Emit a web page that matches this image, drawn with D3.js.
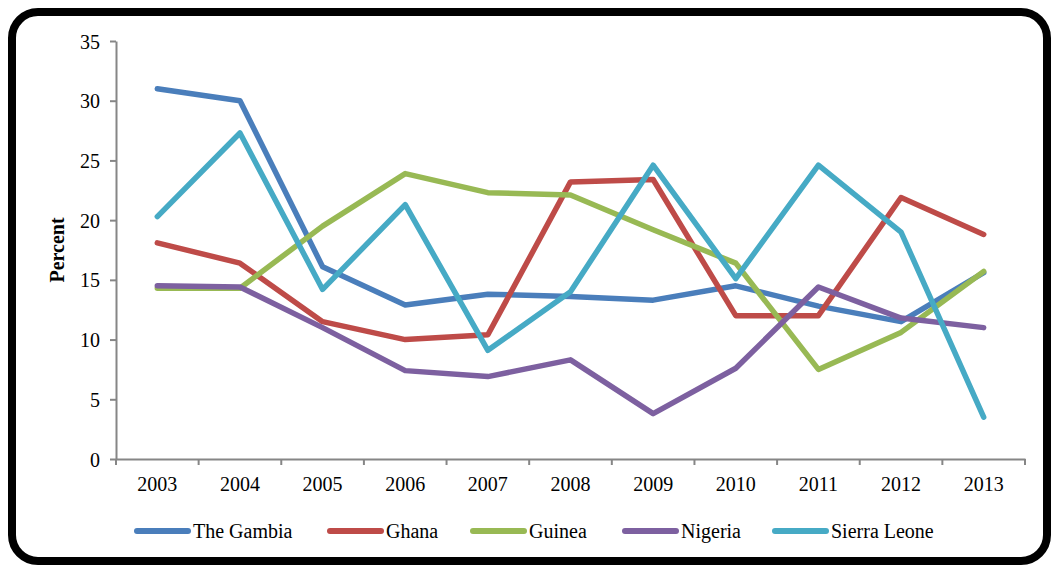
<!DOCTYPE html>
<html>
<head>
<meta charset="utf-8">
<script src="https://cdn.jsdelivr.net/npm/d3@7"></script>
<style>
  html, body { margin: 0; padding: 0; background: #fff; overflow: hidden; }
  svg { display: block; }
  svg text { font-family: "Liberation Serif", "Times New Roman", serif; }
  .axis path, .axis line { stroke: #868686; stroke-width: 2; }
  .axis text { font-size: 20px; fill: #000; font-family: "Liberation Serif", serif; }
</style>
</head>
<body>
<svg class="chart"></svg>
<script>
const years = ['2003', '2004', '2005', '2006', '2007', '2008', '2009', '2010', '2011', '2012', '2013'];
const gambia = [31.0, 30.0, 16.1, 12.9, 13.8, 13.6, 13.3, 14.5, 12.8, 11.5, 15.6];
const ghana = [18.1, 16.4, 11.5, 10.0, 10.4, 23.2, 23.4, 12.0, 12.0, 21.9, 18.8];
const guinea = [14.3, 14.3, 19.5, 23.9, 22.3, 22.1, 19.2, 16.4, 7.5, 10.6, 15.7];
const nigeria = [14.5, 14.4, 11.0, 7.4, 6.9, 8.3, 3.8, 7.6, 14.4, 11.8, 11.0];
const sierraLeone = [20.3, 27.3, 14.2, 21.3, 9.1, 14.0, 24.6, 15.1, 24.6, 19.0, 3.5];
const yTicks = [0, 5, 10, 15, 20, 25, 30, 35];

const series = [
  {name: 'The Gambia', values: gambia, color: '#4a7ebb'},
  {name: 'Ghana', values: ghana, color: '#be4b48'},
  {name: 'Guinea', values: guinea, color: '#98b954'},
  {name: 'Nigeria', values: nigeria, color: '#7d60a0'},
  {name: 'Sierra Leone', values: sierraLeone, color: '#46aac5'},
];

const W = 1051, H = 565;
const margin = {top: 41, right: 26, bottom: 106, left: 116};
const width = W - margin.left - margin.right;
const height = H - margin.top - margin.bottom;

const svg = d3.select('.chart')
  .attr('width', W)
  .attr('height', H);

// rounded frame
svg.append('rect')
  .attr('x', 12)
  .attr('y', 12)
  .attr('width', 1035)
  .attr('height', 549)
  .attr('rx', 26)
  .attr('fill', 'none')
  .attr('stroke', '#000')
  .attr('stroke-width', 8);

const chart = svg.append('g')
  .attr('transform', `translate(${margin.left}, ${margin.top})`);

const x = d3.scaleBand()
  .domain(years)
  .range([0, width])
  .padding(0);

const y = d3.scaleLinear()
  .domain([0, 35])
  .range([height, 0]);

// y axis
chart.append('g')
  .attr('class', 'y axis')
  .call(d3.axisLeft(y).tickValues(yTicks).tickSize(6).tickPadding(10).tickSizeOuter(0))
  .call(g => g.selectAll('.tick text').attr('dy', '0.35em'));

// x axis: labels centred in bands, ticks on band edges
const xAxis = chart.append('g')
  .attr('class', 'x axis')
  .attr('transform', `translate(0, ${height})`)
  .call(d3.axisBottom(x).tickSize(0).tickPadding(18).tickSizeOuter(0));

xAxis.selectAll('.edge')
  .data(years.concat(['end']))
  .enter()
.append('line')
  .attr('class', 'edge')
  .attr('x1', d => d === 'end' ? x.range()[1] : x(d))
  .attr('x2', d => d === 'end' ? x.range()[1] : x(d))
  .attr('y1', 0)
  .attr('y2', 6);

// lines
const line = d3.line()
  .x((d, i) => x(years[i]) + x.bandwidth() / 2)
  .y(d => y(d));

chart.selectAll('.series')
  .data(series)
  .enter()
.append('path')
  .attr('class', 'series')
  .attr('fill', 'none')
  .attr('stroke', d => d.color)
  .attr('stroke-width', 5.5)
  .attr('stroke-linejoin', 'round')
  .attr('stroke-linecap', 'round')
  .attr('d', d => line(d.values));

// y label
svg.append('text')
  .attr('transform', 'translate(64, 250) rotate(-90)')
  .attr('text-anchor', 'middle')
  .style('font-size', '20px')
  .style('font-weight', 'bold')
  .text('Percent');

// legend
const legendX = [134, 327, 470, 622, 772];
const legend = svg.selectAll('.legend')
  .data(series)
  .enter()
.append('g')
  .attr('class', 'legend')
  .attr('transform', (d, i) => `translate(${legendX[i]}, 531)`);

legend.append('line')
  .attr('x1', 3)
  .attr('x2', 54)
  .attr('stroke', d => d.color)
  .attr('stroke-width', 6)
  .attr('stroke-linecap', 'round');

legend.append('text')
  .attr('x', 59)
  .attr('y', 7)
  .style('font-size', '20px')
  .text(d => d.name);
</script>
</body>
</html>
